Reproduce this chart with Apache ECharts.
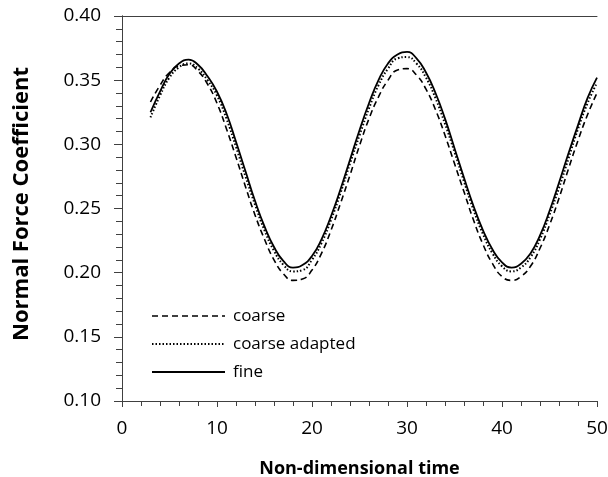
<!DOCTYPE html>
<html>
<head>
<meta charset="utf-8">
<script src="https://cdn.jsdelivr.net/npm/echarts@6/dist/echarts.min.js"></script>
<style>
html,body{margin:0;padding:0;background:#fff;}
#c{width:608px;height:477px;}
</style>
</head>
<body>
<div id="c"></div>
<script>
var time = [3,4,5,6,7,8,9,10,11,12,13,14,15,16,17,18,19,20,21,22,23,24,25,26,27,28,29,30,31,32,33,34,35,36,37,38,39,40,41,42,43,44,45,46,47,48,49,50];
var coarse = [0.333,0.346,0.356,0.361,0.362,0.357,0.347,0.332,0.312,0.290,0.267,0.245,0.226,0.210,0.199,0.194,0.195,0.202,0.215,0.233,0.254,0.276,0.299,0.320,0.337,0.350,0.358,0.359,0.354,0.343,0.327,0.307,0.285,0.263,0.241,0.222,0.207,0.197,0.194,0.197,0.205,0.219,0.237,0.258,0.281,0.303,0.323,0.340];
var coarseAdapted = [0.321,0.338,0.352,0.360,0.363,0.359,0.350,0.338,0.320,0.298,0.275,0.253,0.233,0.217,0.206,0.201,0.202,0.210,0.223,0.241,0.262,0.285,0.307,0.328,0.346,0.359,0.367,0.368,0.363,0.352,0.336,0.316,0.294,0.271,0.249,0.230,0.215,0.205,0.201,0.204,0.212,0.226,0.245,0.266,0.289,0.312,0.332,0.348];
var fine = [0.325,0.341,0.355,0.363,0.366,0.362,0.353,0.341,0.324,0.302,0.279,0.256,0.236,0.220,0.209,0.204,0.206,0.213,0.226,0.244,0.265,0.288,0.311,0.332,0.350,0.363,0.370,0.372,0.367,0.356,0.340,0.320,0.297,0.274,0.252,0.233,0.218,0.208,0.204,0.207,0.215,0.229,0.248,0.270,0.293,0.315,0.336,0.352];
var seriesNames = ['coarse','coarse adapted','fine'];
var xTitle = 'Non-dimensional time';
var yTitle = 'Normal Force Coefficient';

function pairs(ys){ return time.map(function(t,i){ return [t, ys[i]]; }); }

var FONT = '"Open Sans", "Noto Sans", sans-serif';
var axisColor = '#404040';
var dashes = [[6,4],[1.5,2],null];
var widths = [1.6,2,1.8];

var frameAxis = {show:true, axisLine:{show:true,lineStyle:{color:axisColor,width:1}}, axisTick:{show:false}, axisLabel:{show:false}, splitLine:{show:false}};

var legendGraphics = [];
seriesNames.forEach(function(n,i){
  var y = 316 + i*28;
  legendGraphics.push({type:'line', shape:{x1:152,y1:y,x2:225,y2:y},
    style:{stroke:'#000', lineWidth:widths[i], lineDash:dashes[i]}});
  legendGraphics.push({type:'text', x:233, y:y,
    style:{text:n, font:'17px ' + FONT, fill:'#000', textAlign:'left', textVerticalAlign:'middle'}});
});

var chart = echarts.init(document.getElementById('c'), null, {renderer:'canvas'});
chart.setOption({
  animation:false,
  backgroundColor:'#fff',
  grid:{left:122,right:11,top:16,bottom:76,containLabel:false,outerBoundsMode:'none'},
  xAxis:[{
    type:'value', min:0, max:50, interval:10,
    name:xTitle, nameLocation:'middle', nameGap:59,
    nameTextStyle:{fontFamily:FONT,fontSize:18,fontWeight:'bold',color:'#000'},
    axisLine:{show:true,lineStyle:{color:axisColor,width:1}},
    axisTick:{show:true,inside:false,length:6,lineStyle:{color:axisColor}},
    minorTick:{show:true,splitNumber:5,length:5,lineStyle:{color:axisColor}},
    axisLabel:{fontFamily:FONT,fontSize:19,color:'#000',margin:18},
    splitLine:{show:false}
  }, Object.assign({type:'value',min:0,max:50,position:'top'}, frameAxis)],
  yAxis:[{
    type:'value', min:0.1, max:0.4, interval:0.05,
    axisLine:{show:true,lineStyle:{color:axisColor,width:1}},
    axisTick:{show:true,inside:false,length:8,lineStyle:{color:axisColor}},
    minorTick:{show:true,splitNumber:5,length:6,lineStyle:{color:axisColor}},
    axisLabel:{fontFamily:FONT,fontSize:19,color:'#000',margin:21,formatter:function(v){return v.toFixed(2);}},
    splitLine:{show:false}
  }, Object.assign({type:'value',min:0.1,max:0.4,position:'right'}, frameAxis)],
  graphic:[{
    type:'text', x:22, y:204, rotation:Math.PI/2,
    style:{text:yTitle, font:'bold 22px ' + FONT, fill:'#000', textAlign:'center', textVerticalAlign:'middle'}
  }].concat(legendGraphics),
  series:seriesNames.map(function(n,i){
    var d = [coarse, coarseAdapted, fine][i];
    return {name:n,type:'line',data:pairs(d),smooth:true,showSymbol:false,symbol:'none',
      lineStyle:{color:'#000',width:widths[i],type:dashes[i]||'solid'},itemStyle:{color:'#000'}};
  })
});
</script>
</body>
</html>
